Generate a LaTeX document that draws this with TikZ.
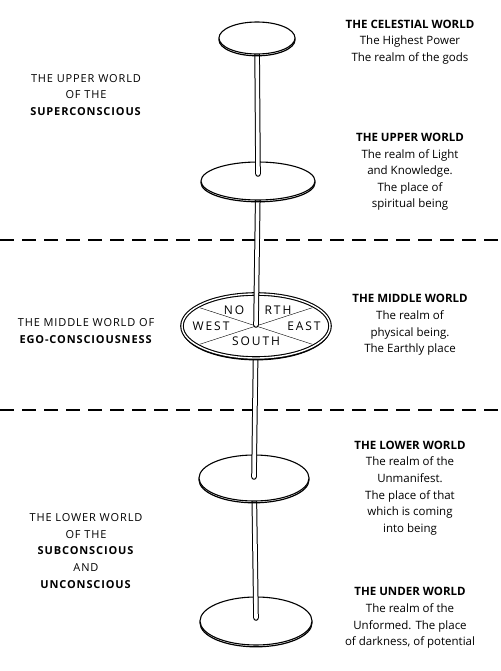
\documentclass[tikz,border=0pt]{standalone}
\usepackage{fontspec}
\setmainfont{Open Sans}
\newfontfamily\spacedfont[LetterSpace=8]{Open Sans}
\newfontfamily\compassfont[LetterSpace=16]{Open Sans}
\usetikzlibrary{shapes.geometric,shadows}

\begin{document}
\begin{tikzpicture}[
  x=1pt, y=-1pt,
  every node/.style={font=\fontsize{11.5}{16.6}\selectfont},
  disk/.style={ellipse, draw, fill=white, line width=1.1pt,
               inner sep=0pt, outer sep=0pt,
               general shadow={shadow yshift=-1.8pt, draw=black, line width=1.2pt}},
  pole/.style={draw, line width=1pt, double=white,
               double distance=3.6pt, line cap=round},
  divider/.style={line width=1.3pt, dash pattern=on 14pt off 8pt},
  world/.style={align=center},
  sphere/.style={align=center, font=\spacedfont\fontsize{11}{16.6}\selectfont},
  compass/.style={font=\compassfont\fontsize{12}{13}\selectfont, inner sep=0pt},
]
\useasboundingbox (0,0) rectangle (500,671);

%% ── Dividers ───────────────────────────────────────────────────────────
\draw[divider] (0,240) -- (500,240);
\draw[divider] (0,410) -- (500,410);

%% ── Disk centres ───────────────────────────────────────────────────────
\coordinate (celc) at (257,38);
\coordinate (uppc) at (258,181);
\coordinate (midc) at (256,326);
\coordinate (lowc) at (254,478);
\coordinate (undc) at (256,621);

%% ── Disks and pole (from the bottom up) ────────────────────────────────
\node[disk, minimum width=112pt, minimum height=48pt] (under) at (undc) {};
\draw[pole] (lowc) -- ([yshift=3pt]under.center);
\node[disk, minimum width=110pt, minimum height=46pt] (lower) at (lowc) {};
\draw[pole] (midc) -- ([yshift=1pt]lower.center);
\node[disk, double, double distance=1.4pt, minimum width=148pt,
      minimum height=64pt] (middle) at (midc) {};
\draw[thin, shorten <=3pt, shorten >=3pt] (middle.162) -- (middle.-18);
\draw[thin, shorten <=3pt, shorten >=3pt] (middle.198) -- (middle.18);
\node[compass] (north1) at (234,310) {NO};
\node[compass] (north2) at (278,310) {RTH};
\node[compass] (west)   at (211,326) {WEST};
\node[compass] (east)   at (304,326) {EAST};
\node[compass] (south)  at (256,341) {SOUTH};
\draw[pole] (uppc) -- ([yshift=1pt]middle.center);
\node[disk, minimum width=114pt, minimum height=38pt] (upper) at (uppc) {};
\draw[pole] (celc) -- ([yshift=7pt]upper.center);
\node[disk, minimum width=76pt, minimum height=32pt] (celestial) at (celc) {};

%% ── Worlds (right) ─────────────────────────────────────────────────────
\node[world] (tcel) at (410,42)
  {\textbf{THE CELESTIAL WORLD}\\The Highest Power\\The realm of the gods};
\node[world] (tupp) at (410,172)
  {\textbf{THE UPPER WORLD}\\The realm of Light\\and Knowledge.\\The place of\\spiritual being};
\node[world] (tmid) at (410,325)
  {\textbf{THE MIDDLE WORLD}\\The realm of\\physical being.\\The Earthly place};
\node[world] (tlow) at (410,488)
  {\textbf{THE LOWER WORLD}\\The realm of the\\Unmanifest.\\The place of that\\which is coming\\into being};
\node[world] (tund) at (410,618)
  {\textbf{THE UNDER WORLD}\\The realm of the\\Unformed. The place\\of darkness, of potential};

%% ── Spheres of consciousness (left) ────────────────────────────────────
\node[sphere] (super) at (86,95)
  {THE UPPER WORLD\\OF THE\\\textbf{SUPERCONSCIOUS}};
\node[sphere] (ego) at (86,331)
  {THE MIDDLE WORLD OF\\\textbf{EGO-CONSCIOUSNESS}};
\node[sphere] (sub) at (86,551)
  {THE LOWER WORLD\\OF THE\\\textbf{SUBCONSCIOUS}\\AND\\\textbf{UNCONSCIOUS}};

\end{tikzpicture}
\end{document}
